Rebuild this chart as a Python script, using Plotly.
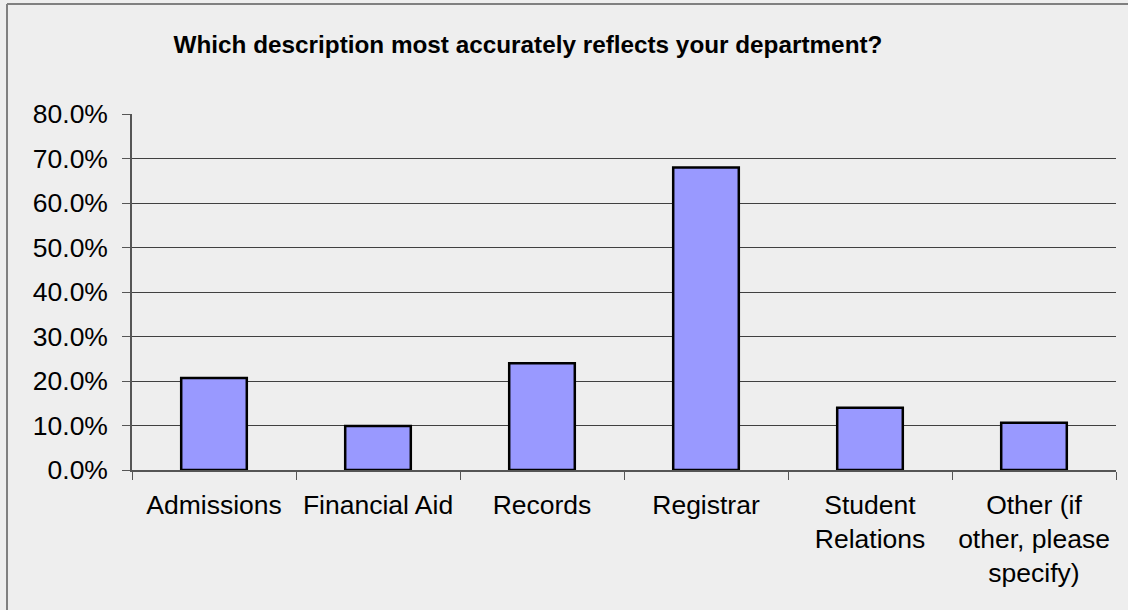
import plotly.graph_objects as go

categories = ["Admissions", "Financial Aid", "Records", "Registrar",
              "Student<br>Relations", "Other (if<br>other, please<br>specify)"]
values = [0.207, 0.099, 0.240, 0.680, 0.140, 0.106]
y_ticks = [0, 0.1, 0.2, 0.3, 0.4, 0.5, 0.6, 0.7, 0.8]
title_text = "Which description most accurately reflects your department?"

W, H = 1128, 610
L, R, T, B = 132, 12, 114, 140

fig = go.Figure(go.Bar(
    x=categories, y=values, width=0.4,
    marker=dict(color="#9999FF", line=dict(color="#000000", width=2.5)),
    hoverinfo="skip",
))

fig.update_layout(
    width=W, height=H,
    margin=dict(l=L, r=R, t=T, b=B, pad=0),
    paper_bgcolor="#EEEEEE", plot_bgcolor="#EEEEEE",
    font=dict(family="Liberation Sans, Arial, sans-serif", size=26.5, color="#000000"),
    showlegend=False,
    title=dict(text="<b>" + title_text + "</b>", xref="container", yref="container",
               x=528 / W, y=1 - 44 / H, xanchor="center", yanchor="middle",
               font=dict(size=24.3, color="#000000")),
)

fig.update_yaxes(
    range=[0, 0.8], tickvals=y_ticks, tickformat=".1%",
    showgrid=True, gridcolor="#404040", gridwidth=1,
    showline=True, linecolor="#555555", linewidth=1.5,
    ticks="outside", ticklen=8, tickcolor="#555555",
    ticklabelstandoff=9, zeroline=False, fixedrange=True,
)
fig.update_xaxes(
    showline=True, linecolor="#555555", linewidth=1.5,
    ticks="outside", ticklen=8, tickcolor="#555555", tickson="boundaries",
    ticklabelstandoff=10, showgrid=False, fixedrange=True,
)

# outer chart border (top and left edges visible)
pw, ph = W - L - R, H - T - B
fig.add_shape(type="line", xref="paper", yref="paper",
              x0=(7 - L) / pw, x1=(W - L) / pw,
              y0=(H - B - 4) / ph, y1=(H - B - 4) / ph,
              line=dict(color="#808080", width=2))
fig.add_shape(type="line", xref="paper", yref="paper",
              x0=(7 - L) / pw, x1=(7 - L) / pw,
              y0=-B / ph, y1=(H - B - 4) / ph,
              line=dict(color="#808080", width=2))

fig.write_html("out.html", config={"displayModeBar": False},
               post_script="document.body.style.margin='0px';")
